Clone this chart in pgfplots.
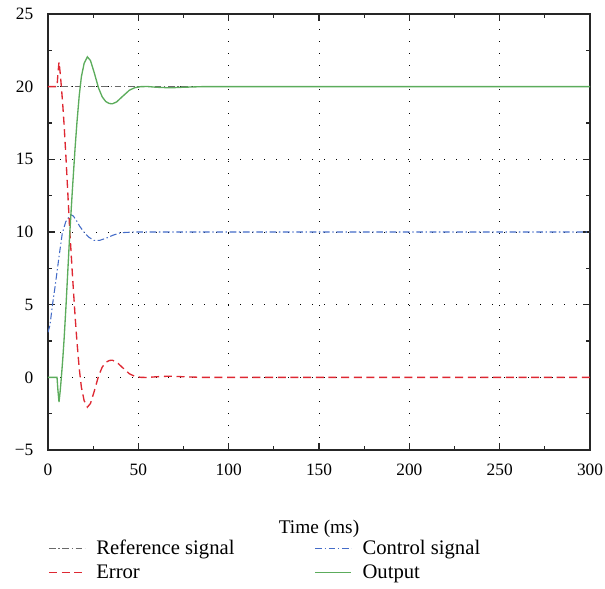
\documentclass[border=0pt]{standalone}
\usepackage{fontspec}
\setmainfont{Liberation Serif}
\usepackage{pgfplots}
\pgfplotsset{compat=1.18}
\definecolor{refgray}{RGB}{105,105,105}
\definecolor{ctrlblue}{RGB}{68,108,200}
\definecolor{errred}{RGB}{222,40,50}
\definecolor{outgreen}{RGB}{92,172,92}
\begin{document}
\begin{tikzpicture}
\begin{axis}[
 scale only axis, width=406.5pt, height=327pt,
 xmin=0, xmax=300, ymin=-5, ymax=25,
 xtick={0,50,...,300}, ytick={-5,0,...,25},
 yticklabels={−5,0,5,10,15,20,25},
 minor x tick num=1, minor y tick num=1,
 tick align=inside,
 major tick length=5pt, minor tick length=3pt,
 grid=major,
 major grid style={black, line width=0.7pt, dash pattern=on 0.7pt off 8.3pt},
 axis line style={black!85, line width=0.9pt},
 every tick/.style={black!85, line width=0.8pt},
 /pgf/number format/assume math mode=true,
 tick label style={font=\fontsize{13}{15}\selectfont},
 yticklabel style={xshift=-7.5pt},
 xticklabel style={yshift=-7pt},
 xlabel={Time (ms)},
 xlabel style={font=\fontsize{14.5}{17}\selectfont, at={(axis description cs:0.5,-0.16)}, anchor=north, inner sep=0pt},
 legend columns=2,
 legend style={draw=none, fill=none, at={(axis description cs:0,-0.2)}, anchor=north west, font=\fontsize{15.5}{18}\selectfont, inner sep=0pt, row sep=2pt,
   /tikz/every even column/.append style={column sep=58pt},
   /tikz/every odd column/.append style={column sep=6pt}},
 legend cell align=left,
 legend image code/.code={\draw[mark repeat=2,mark phase=2,#1] plot coordinates {(0pt,0pt) (13.5pt,0pt) (27pt,0pt)};},
]
\addplot[color=refgray, line width=0.8pt, dash pattern=on 5pt off 2pt on 1pt off 2pt] coordinates {(0,20) (300,20)};
\addlegendentry{Reference signal}
\addplot[color=ctrlblue, line width=0.8pt, dash pattern=on 5pt off 2pt on 1pt off 2pt] coordinates {
(0,3.1) (1.1,3.6) (2.5,5.0) (4.2,6.5) (6.1,8.3) (7.9,9.9) (9.8,10.7) (12.5,11.2) (14,11.1) (15.7,10.8) (17.5,10.4) (19.9,10.0) (22.5,9.65) (25.5,9.42) (28.5,9.42) (31.9,9.56) (36,9.78) (40.2,9.95) (47.5,10.0) (300,10)};
\addlegendentry{Control signal}
\addplot[color=errred, line width=1pt, dash pattern=on 6pt off 3.5pt] coordinates {
(0,20) (5,20) (5.5,20.9) (6.1,21.7) (6.7,21.0) (7.4,20) (8.2,18.7) (8.9,17.4) (10,15.0) (11,12.6) (12,10.2) (13.5,7.1) (15,4.2) (16,2.5) (17.3,0.6) (18.5,-0.7) (20,-1.6) (21.8,-2.05) (23.5,-1.8) (25.5,-1.0) (28,0.1) (30,0.7) (32,1.03) (34,1.16) (35.6,1.18) (38,1.05) (41,0.7) (45,0.25) (48,0.07) (51.3,0) (55,-0.01) (60,0.04) (67.5,0.08) (75,0.04) (85,0) (300,0)};
\addlegendentry{Error}
\addplot[color=outgreen, line width=1pt] coordinates {
(0,0) (5,0) (5.5,-0.9) (6.1,-1.7) (6.7,-1.0) (7.4,0) (8.2,1.3) (8.9,2.6) (10,5.0) (11,7.4) (12,9.8) (13.5,12.9) (15,15.8) (16,17.5) (17.3,19.4) (18.5,20.7) (20,21.6) (21.8,22.05) (23.5,21.8) (25.5,21.0) (28,19.9) (30,19.3) (32,18.97) (34,18.84) (35.6,18.82) (38,18.95) (41,19.3) (45,19.75) (48,19.93) (51.3,20.0) (55,20.01) (60,19.96) (67.5,19.92) (75,19.96) (85,20.0) (300,20)};
\addlegendentry{Output}
\end{axis}
\pgfresetboundingbox
\path (current axis.south west) ++(-36pt,-103.5pt) (current axis.north east) ++(11.25pt,10.5pt);
\end{tikzpicture}
\end{document}
